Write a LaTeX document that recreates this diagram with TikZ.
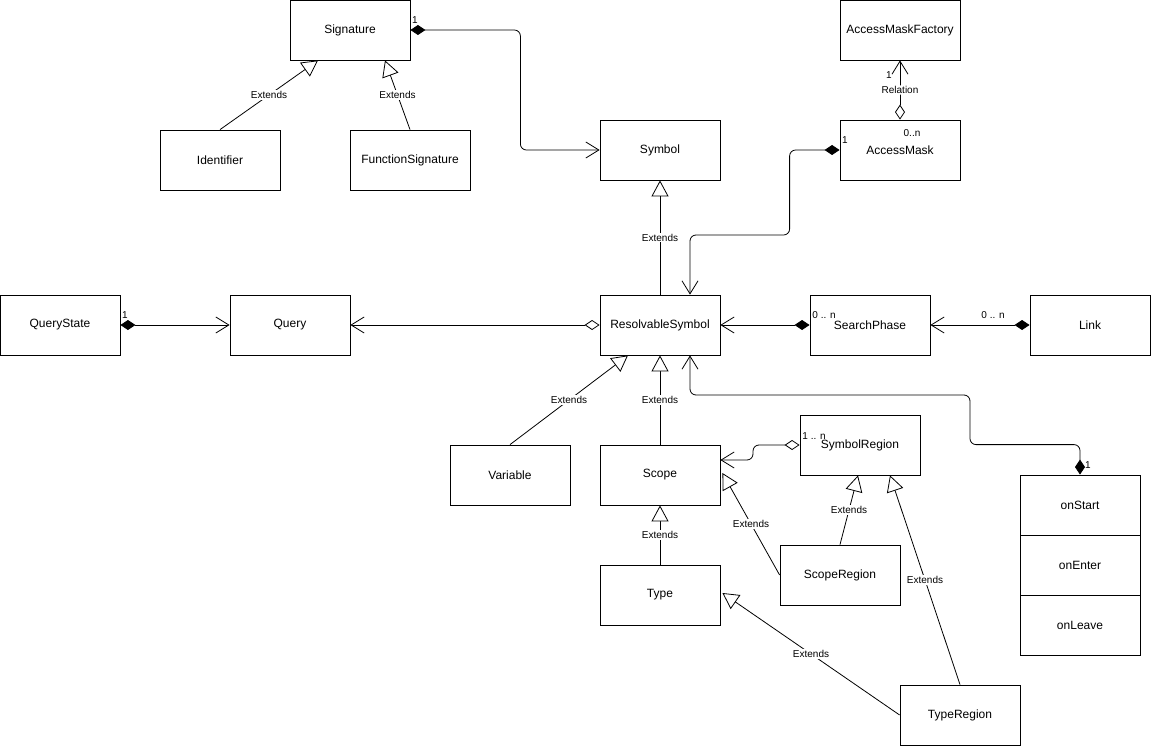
\documentclass[tikz,border=0pt]{standalone}
\usepackage{fontspec}
\setmainfont{Liberation Sans}
\usetikzlibrary{calc, positioning, arrows.meta}

\tikzset{
  cls/.style={draw, line width=0.8pt, minimum width=120pt, minimum height=60pt,
    inner sep=0pt, font=\fontsize{12}{14}\selectfont},
  ext/.style={line width=0.8pt, -{Triangle[open,length=16pt,width=17pt,fill=white]}},
  comp/.style={line width=0.8pt, rounded corners=6pt,
    {Diamond[length=15pt,width=10pt]}-{Straight Barb[length=13pt,width=16pt]}},
  aggr/.style={line width=0.8pt, rounded corners=6pt,
    {Diamond[open,length=15pt,width=10pt,fill=white]}-{Straight Barb[length=13pt,width=16pt]}},
  lbl/.style={fill=white, inner sep=1pt, font=\fontsize{10}{12}\selectfont},
  mult/.style={inner sep=0pt, font=\fontsize{10}{12}\selectfont}
}

\begin{document}
\begin{tikzpicture}[x=1pt, y=-1pt]
  \useasboundingbox (0,0) rectangle (1152,749);
  % classes
  \node[cls] (sig)    at (350,30)  {Signature};
  \node[cls] (ident)  at (220,160) {Identifier};
  \node[cls] (fsig)   at (410,160) {FunctionSignature};
  \node[cls] (sym)    at (660,150) {Symbol};
  \node[cls] (amfact) at (900,30)  {AccessMaskFactory};
  \node[cls] (amask)  at (900,150) {AccessMask};
  \node[cls] (qstate) at (60,325)  {QueryState};
  \node[cls] (query)  at (290,325) {Query};
  \node[cls] (rsym)   at (660,325) {ResolvableSymbol};
  \node[cls] (sphase) at (870,325) {SearchPhase};
  \node[cls] (link)   at (1090,325) {Link};
  \node[cls] (var)    at (510,475) {Variable};
  \node[cls] (scope)  at (660,475) {Scope};
  \node[cls] (symreg) at (860,445) {SymbolRegion};
  \node[cls] (type)   at (660,595) {Type};
  \node[cls] (screg)  at (840,575) {ScopeRegion};
  \node[cls] (tyreg)  at (960,715) {TypeRegion};
  % phase callbacks
  \node[cls] (onstart) at (1080,505) {onStart};
  \node[cls] (onenter) at (1080,565) {onEnter};
  \node[cls] (onleave) at (1080,625) {onLeave};

  % inheritance
  \draw[ext] (ident.north) -- node[lbl] {Extends} ($(sig.south)+(-32,0)$);
  \draw[ext] (fsig.north) -- node[lbl] {Extends} ($(sig.south)+(35,0)$);
  \draw[ext] (rsym.north) -- node[lbl] {Extends} (sym.south);
  \draw[ext] (var.north) -- node[lbl] {Extends} ($(rsym.south)+(-32,0)$);
  \draw[ext] (scope.north) -- node[lbl] {Extends} (rsym.south);
  \draw[ext] (type.north) -- node[lbl] {Extends} (scope.south);
  \draw[ext] (screg.west) -- node[lbl] {Extends} ($(scope.east)+(2,-2)$);
  \draw[ext] (screg.north) -- node[lbl] {Extends} ($(symreg.south)+(-2,0)$);
  \draw[ext] (tyreg.west) -- node[lbl] {Extends} ($(type.east)+(2,-2)$);
  \draw[ext] (tyreg.north) -- node[lbl] {Extends} ($(symreg.south)+(30,0)$);

  % composition
  \draw[comp] (sig.east) -- ++(110,0) |- (sym.west);
  \node[mult] at (415,20) {1};
  \draw[comp] (amask.west) -- ++(-50,0) -- ++(0,85) -| ($(rsym.north)+(30,0)$);
  \node[mult] at (845,140) {1};
  \draw[comp] (qstate.east) -- (query.west);
  \node[mult] at (125,315) {1};
  \draw[comp] (sphase.west) -- (rsym.east);
  \node[mult] at (824,315) {0 .. n};
  \draw[comp] (link.west) -- (sphase.east);
  \node[mult] at (993,315) {0 .. n};
  \draw[comp] (onstart.north) -- ++(0,-30) -| (970,395) -| ($(rsym.south)+(30,0)$);
  \node[mult] at (1088,465) {1};

  % aggregation
  \draw[aggr] (rsym.west) -- (query.east);
  \draw[aggr] (amask.north) -- node[lbl] {Relation} (amfact.south);
  \node[mult] at (889,75) {1};
  \node[mult] at (912,133) {0..n};
  \draw[aggr] (symreg.west) -- (753,445) -- (753,460) -- ($(scope.east)+(0,-15)$);
  \node[mult] at (814,436) {1 .. n};
\end{tikzpicture}
\end{document}
